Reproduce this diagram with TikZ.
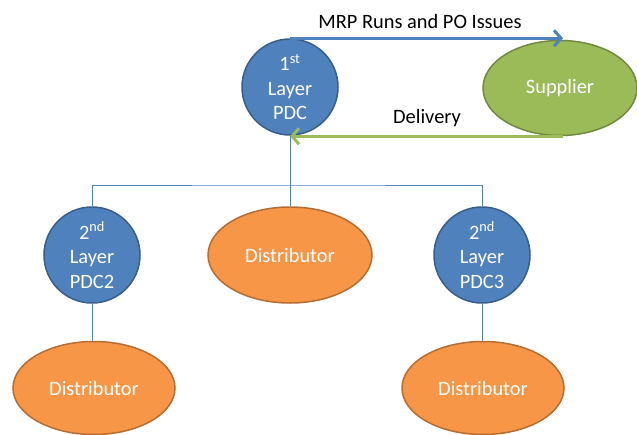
\documentclass[tikz,border=0pt]{standalone}
\usepackage{fontspec}
\setmainfont{Carlito}
\usepackage{xcolor}
\usepackage{tikz}
\usetikzlibrary{shapes.geometric,arrows.meta,positioning}
\definecolor{pdcblue}{HTML}{4F81BD}
\definecolor{pdcedge}{HTML}{385D8A}
\definecolor{distorange}{HTML}{F79646}
\definecolor{distedge}{HTML}{B66D31}
\definecolor{supgreen}{HTML}{9BBB59}
\definecolor{supedge}{HTML}{71893F}

\begin{document}
\begin{tikzpicture}[x=1pt,y=-1pt,
	font=\fontsize{20.4}{24.5}\selectfont,
	pdcnode/.style={circle,fill=pdcblue,draw=pdcedge,line width=1.5pt,minimum size=96pt,inner sep=0pt,align=center,text=white},
	distnode/.style={ellipse,fill=distorange,draw=distedge,line width=1.5pt,minimum width=162pt,minimum height=93pt,inner sep=0pt,text=white},
	flowarrow/.style={-{Straight Barb[length=7pt,width=16pt]},line width=3pt},
	treeline/.style={pdcblue,line width=0.8pt}]
	\useasboundingbox (0,0) rectangle (637,434);
	\node[pdcnode] (pdc) at (290,87) {1\textsuperscript{st}\\Layer\\PDC};
	\node[ellipse,fill=supgreen,draw=supedge,line width=1.5pt,minimum width=154pt,minimum height=95pt,text=white] (sup) at (560,88) {Supplier};
	\draw [flowarrow,pdcblue] (pdc.north) -- ([xshift=3pt]pdc.north -| sup.north);
	\draw [flowarrow,supgreen] ([xshift=3pt]sup.south) -- (sup.south -| pdc.south);
	\node[anchor=base] (mrp) at (420,28) {MRP Runs and PO Issues};
	\node[anchor=base] (deliv) at (427,123) {Delivery};
	% second layer
	\node[pdcnode] (pdc2) at (92,255) {2\textsuperscript{nd}\\Layer\\PDC2};
	\node[distnode,minimum width=164pt,minimum height=96pt] (dmid) at (290,255) {Distributor};
	\node[pdcnode] (pdc3) at (482,255) {2\textsuperscript{nd}\\Layer\\PDC3};
	\node[distnode] (dl) at (94,388) {Distributor};
	\node[distnode] (dr) at (483,388) {Distributor};
	% tree
	\coordinate (hub) at (290,185);
	\draw[treeline] (pdc.south) -- (hub);
	\draw[treeline] (pdc2.north) |- (hub) -| (pdc3.north);
	\draw[treeline] (dmid.north) -- (hub);
	\draw[treeline] (pdc2.south) -- (pdc2.south |- dl.north);
	\draw[treeline] (pdc3.south) -- (pdc3.south |- dr.north);
\end{tikzpicture}
\end{document}
